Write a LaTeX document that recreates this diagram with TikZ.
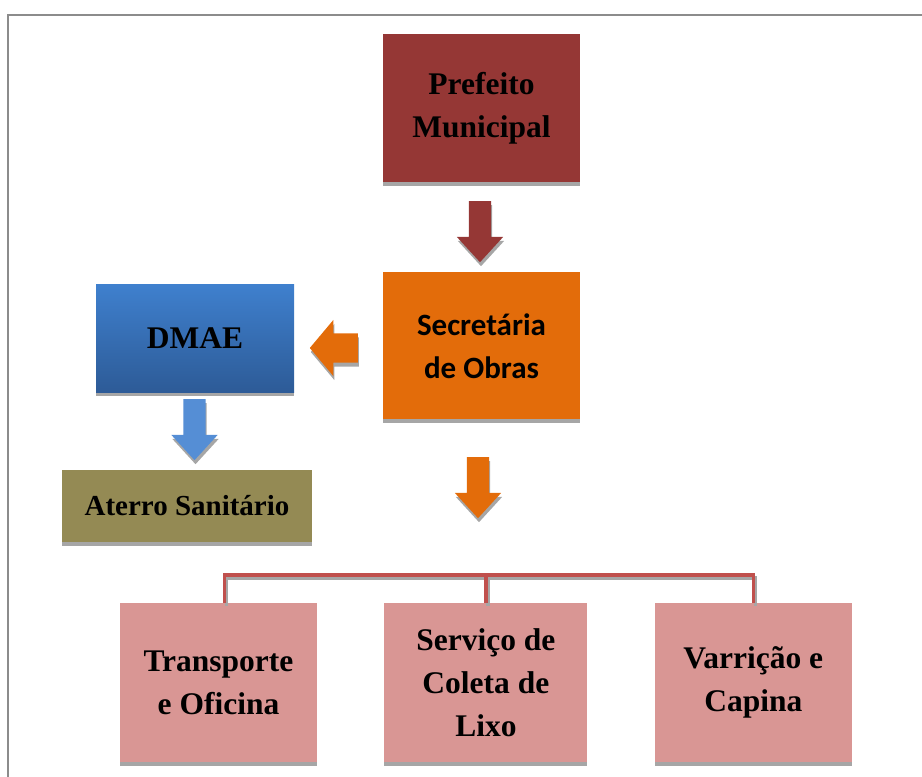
\documentclass[tikz,border=0pt]{standalone}
\usepackage{fontspec}
\setmainfont{Liberation Serif}
\newfontfamily\calibri{Carlito}
\usetikzlibrary{positioning,shapes.arrows,shadows}

\definecolor{prefred}{HTML}{953735}
\definecolor{secorange}{HTML}{E36C0A}
\definecolor{dmaetop}{HTML}{3F80CE}
\definecolor{dmaebot}{HTML}{2D5B97}
\definecolor{aterro}{HTML}{948A54}
\definecolor{pinkbox}{HTML}{D99694}
\definecolor{arrowblue}{HTML}{558ED5}
\definecolor{linkred}{HTML}{C0504D}
\definecolor{shadowgray}{HTML}{A6A6A6}
\definecolor{framegray}{HTML}{8C8C8C}

\begin{document}
\begin{tikzpicture}[
  x=1pt, y=-1pt,
  node distance=90pt and 67pt,
  orgbox/.style={rectangle,inner sep=0pt,align=center,
    font=\fontsize{31.5}{43}\selectfont\bfseries,
    drop shadow={shadow xshift=0pt,shadow yshift=-4pt,fill=shadowgray,opacity=1}},
  blockarrow/.style={single arrow,anchor=tail,inner sep=11pt,minimum height=61pt,minimum width=46pt,
    single arrow head extend=12pt,single arrow tip angle=85,
    drop shadow={shadow xshift=1pt,shadow yshift=-4pt,fill=shadowgray,opacity=1}},
  bracket/.style={draw=linkred,line width=3.5pt}]
\useasboundingbox (0,0) rectangle (922,777);
\draw[framegray,line width=1.5pt] (8,777) -- (8,15) -- (922,15);

% boxes
\node[orgbox,fill=prefred,minimum width=197pt,minimum height=148pt] (pm) at (481.5,108) {Prefeito\\Municipal};
\node[orgbox,fill=secorange,minimum width=197pt,minimum height=147pt,below=90pt of pm,
  font=\calibri\fontsize{31}{43}\selectfont\bfseries] (so) {Secret\'aria\\de Obras};
\node[orgbox,top color=dmaetop,bottom color=dmaebot,minimum width=198pt,minimum height=108pt] (dm) at (195,338) {DMAE};
\node[orgbox,fill=aterro,minimum width=250pt,minimum height=72pt,
  font=\fontsize{29}{40}\selectfont\bfseries] (as) at (187,506) {Aterro Sanit\'ario};
\node[orgbox,fill=pinkbox,minimum width=197pt,minimum height=159pt] (to) at (218.5,682.5) {Transporte\\e Oficina};
\node[orgbox,fill=pinkbox,minimum width=203pt,minimum height=159pt,right=67pt of to] (sc) {Servi\c{c}o de\\Coleta de\\Lixo};
\node[orgbox,fill=pinkbox,minimum width=197pt,minimum height=159pt,right=67pt of sc] (vc) {Varri\c{c}\~ao e\\Capina};

% block arrows
\node[blockarrow,fill=prefred,shape border rotate=270] (pa) at (480,201) {};
\node[blockarrow,fill=secorange,shape border rotate=270] (sa) at (478,457) {};
\node[blockarrow,fill=secorange,shape border rotate=180,inner sep=14.5pt,minimum height=48pt,minimum width=56pt,
  single arrow head extend=13.5pt,single arrow tip angle=100] (la) at (358,348) {};
\node[blockarrow,fill=arrowblue,shape border rotate=270] (da) at (194.5,399) {};

% bracket
\coordinate (bar) at (0,575);
\begin{scope}[transform canvas={xshift=2pt,yshift=-3pt}]
\draw[bracket,draw=shadowgray] ([xshift=6pt]to.north) |- (bar -| vc.north) -- (vc.north);
\draw[bracket,draw=shadowgray] (sc.north) -- (sc.north |- bar);
\end{scope}
\draw[bracket] ([xshift=6pt]to.north) |- (bar -| vc.north) -- (vc.north);
\draw[bracket] (sc.north) -- (sc.north |- bar);
\end{tikzpicture}
\end{document}
